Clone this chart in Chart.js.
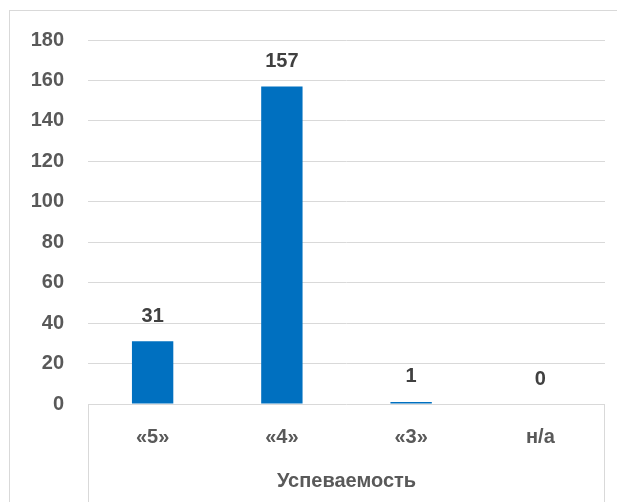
<!DOCTYPE html>
<html>
<head>
<meta charset="utf-8">
<script src="https://cdn.jsdelivr.net/npm/chart.js@4/dist/chart.umd.min.js"></script>
<style>
  html, body { margin: 0; padding: 0; background: #fff; overflow: hidden; }
  #frame {
    position: absolute; left: 9px; top: 10px;
    width: 640px; height: 520px;
    border: 1px solid #d9d9d9;
  }
  #grades-chart { display: block; }
</style>
</head>
<body>
<div id="frame">
  <canvas id="grades-chart" width="607" height="491"></canvas>
</div>
<script>
const categories = ["«5»", "«4»", "«3»", "н/а"];
const counts = [31, 157, 1, 0];
const axisTitle = "Успеваемость";
const yMin = 0;
const yMax = 180;
const yStep = 20;

const grades_chart = document.getElementById("grades-chart");
const labelFont = { family: "'Liberation Sans', Arial, sans-serif", size: 20, weight: "bold" };

// value labels above each bar
const valueLabels = {
  id: "valueLabels",
  afterDatasetsDraw(chart) {
    const ctx = chart.ctx;
    const meta = chart.getDatasetMeta(0);
    ctx.save();
    ctx.font = "bold 20px 'Liberation Sans', Arial, sans-serif";
    ctx.fillStyle = "#404040";
    ctx.textAlign = "center";
    ctx.textBaseline = "middle";
    meta.data.forEach((bar, i) => {
      ctx.fillText(String(counts[i]), bar.x, bar.y - 25);
    });
    ctx.restore();
  }
};

// box under the plot area holding the category labels
const categoryBox = {
  id: "categoryBox",
  beforeDraw(chart) {
    const { ctx, chartArea } = chart;
    ctx.save();
    ctx.strokeStyle = "#d9d9d9";
    ctx.lineWidth = 1;
    ctx.beginPath();
    ctx.moveTo(Math.round(chartArea.left) + 0.5, chartArea.bottom);
    ctx.lineTo(Math.round(chartArea.left) + 0.5, chart.height);
    ctx.moveTo(Math.round(chartArea.right) - 0.5, chartArea.bottom);
    ctx.lineTo(Math.round(chartArea.right) - 0.5, chart.height);
    ctx.stroke();
    ctx.restore();
  }
};

new Chart(grades_chart, {
  type: "bar",
  data: {
    labels: categories,
    datasets: [{
      data: counts,
      backgroundColor: "#0070c0",
      borderWidth: 0,
      categoryPercentage: 1,
      barPercentage: 0.32
    }]
  },
  options: {
    responsive: false,
    animation: false,
    layout: { padding: { top: 29, right: 12, left: 0, bottom: 0 } },
    plugins: {
      legend: { display: false },
      tooltip: { enabled: false }
    },
    scales: {
      x: {
        grid: { display: false, drawTicks: false },
        border: { display: false },
        ticks: { color: "#595959", font: labelFont, padding: 21 },
        title: {
          display: true,
          text: axisTitle,
          color: "#595959",
          font: labelFont,
          padding: { top: 0, bottom: 9 }
        },
        afterFit(scale) { scale.height = 98; }
      },
      y: {
        min: yMin,
        max: yMax,
        grid: { color: "#d9d9d9", lineWidth: 1, drawTicks: false },
        border: { display: false },
        ticks: { stepSize: yStep, color: "#595959", font: labelFont, padding: 24 },
        afterFit(scale) {
          scale.width = 78;
          scale.paddingTop = 0;
          scale.paddingBottom = 0;
        }
      }
    }
  },
  plugins: [valueLabels, categoryBox]
});
</script>
</body>
</html>
